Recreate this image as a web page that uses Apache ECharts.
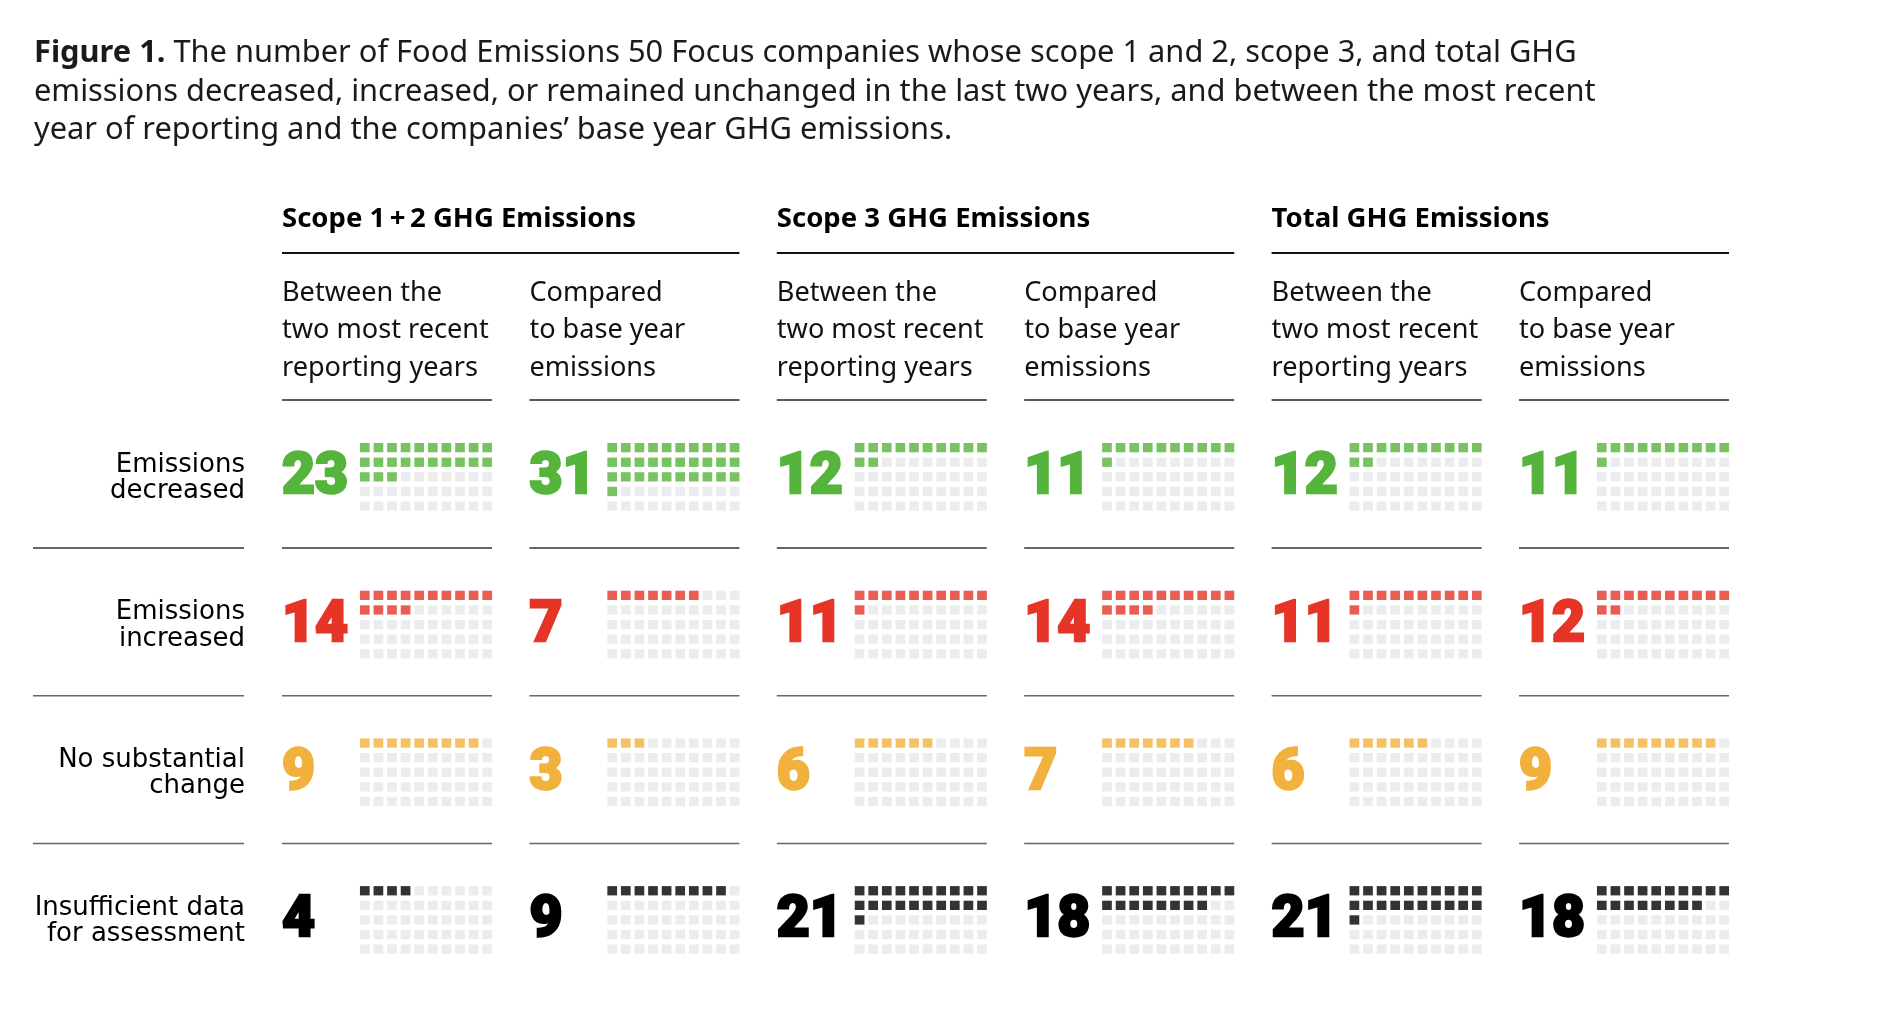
<!DOCTYPE html>
<html>
<head>
<meta charset="utf-8">
<script src="https://cdn.jsdelivr.net/npm/echarts@6/dist/echarts.min.js"></script>
<style>
html,body{margin:0;padding:0;background:#fff;}
#chart{width:1880px;height:1028px;}
</style>
</head>
<body>
<div id="chart"></div>
<script>
// ---- data ----
const titleLines = [
  '{b|Figure 1.} The number of Food Emissions 50 Focus companies whose scope 1 and 2, scope 3, and total GHG',
  'emissions decreased, increased, or remained unchanged in the last two years, and between the most recent',
  'year of reporting and the companies\u2019 base year GHG emissions.'
];
const groups = ['Scope 1\u2009+\u20092 GHG Emissions', 'Scope 3 GHG Emissions', 'Total GHG Emissions'];
const subHeaders = ['Between the\ntwo most recent\nreporting years', 'Compared\nto base year\nemissions'];
const categories = ['Emissions\ndecreased', 'Emissions\nincreased', 'No substantial\nchange', 'Insufficient data\nfor assessment'];
const decreased    = [23, 31, 12, 11, 12, 11];
const increased    = [14, 7, 11, 14, 11, 12];
const noChange     = [9, 3, 6, 7, 6, 9];
const insufficient = [4, 9, 21, 18, 21, 18];
const totalCompanies = 50;
const gridColumns = 10;
const colCats = ['0','1','2','3','4','5','6','7','8','9'];
const rowCats = ['0','1','2','3','4'];

// ---- styles / layout ----
const rowsData = [decreased, increased, noChange, insufficient];
const rowColors = ['#55b43b', '#e63427', '#f2b13d', '#000000'];
const emptyColor = '#e6e7e9';
const textFont = 'Noto Sans';
const colX0 = 282, colPitch = 247.4, colW = 210;
const rowTop0 = 443, rowPitch = 147.7;
const squareBlockW = 136, squareBlockH = 73;

const grids = [], xAxes = [], yAxes = [], series = [], graphics = [];

// title
graphics.push({
  type: 'text', x: 34, y: 92,
  style: {
    text: titleLines.join('\n'),
    fontFamily: textFont, fontSize: 30.8, fill: '#1a1a1a',
    lineHeight: 38.5, verticalAlign: 'middle', align: 'left',
    rich: { b: { fontFamily: textFont, fontSize: 30.8, fontWeight: 'bold', fill: '#1a1a1a', lineHeight: 38.5 } }
  }
});

// group headers
groups.forEach((g, gi) => {
  const x = colX0 + colPitch * 2 * gi;
  graphics.push({ type: 'text', x: x, y: 219.5,
    style: { text: g, fontFamily: textFont, fontSize: 27.5, fontWeight: 'bold', fill: '#000', verticalAlign: 'middle', align: 'left' } });
  graphics.push({ type: 'line', shape: { x1: x, y1: 253, x2: x + colPitch + colW, y2: 253 },
    style: { stroke: '#111', lineWidth: 2 } });
});

// sub headers + columns
for (let c = 0; c < 6; c++) {
  const x = colX0 + colPitch * c;
  graphics.push({ type: 'text', x: x, y: 330.3,
    style: { text: subHeaders[c % 2], fontFamily: textFont, fontSize: 27.1, fill: '#111', lineHeight: 37.5, verticalAlign: 'middle', align: 'left' } });
  graphics.push({ type: 'line', shape: { x1: x, y1: 400, x2: x + colW, y2: 400 },
    style: { stroke: '#222', lineWidth: 1.5 } });
}

// rows
for (let r = 0; r < 4; r++) {
  const top = rowTop0 + rowPitch * r;
  const center = top + 34;
  graphics.push({ type: 'text', x: 245, y: center + 1,
    style: { text: categories[r], fontFamily: 'DejaVu Sans', fontSize: 26, fill: '#000', lineHeight: 26.5, verticalAlign: 'middle', align: 'right' } });
  if (r < 3) {
    const ly = top + 105;
    graphics.push({ type: 'line', shape: { x1: 33, y1: ly, x2: 244, y2: ly }, style: { stroke: r === 0 ? '#333' : '#666', lineWidth: 1.5 } });
    for (let c = 0; c < 6; c++) {
      const x = colX0 + colPitch * c;
      graphics.push({ type: 'line', shape: { x1: x, y1: ly, x2: x + colW, y2: ly }, style: { stroke: r === 0 ? '#333' : '#666', lineWidth: 1.5 } });
    }
  }
  for (let c = 0; c < 6; c++) {
    const x = colX0 + colPitch * c;
    const value = rowsData[r][c];
    graphics.push({ type: 'text', x: x, y: center + 2,
      style: { text: String(value), fontFamily: 'Roboto', fontSize: 57, fontWeight: 900, fill: rowColors[r],
        stroke: rowColors[r], lineWidth: 2.5, verticalAlign: 'middle', align: 'left' } });
    const idx = grids.length;
    grids.push({ left: x + 76, top: top - 2.65, width: squareBlockW, height: squareBlockH });
    xAxes.push({ type: 'category', gridIndex: idx, data: colCats, show: false });
    yAxes.push({ type: 'category', gridIndex: idx, data: rowCats, inverse: true, show: false });
    const pts = [];
    for (let k = 0; k < totalCompanies; k++) {
      pts.push({ value: [k % gridColumns, Math.floor(k / gridColumns)], itemStyle: { color: k < value ? rowColors[r] : emptyColor } });
    }
    series.push({ type: 'scatter', xAxisIndex: idx, yAxisIndex: idx, symbol: 'rect', symbolSize: [9.7, 9.3],
      data: pts, silent: true, animation: false });
  }
}

const chart = echarts.init(document.getElementById('chart'), null, { renderer: 'canvas' });
chart.setOption({
  backgroundColor: '#ffffff',
  animation: false,
  grid: grids, xAxis: xAxes, yAxis: yAxes, series: series,
  graphic: graphics
});
</script>
</body>
</html>
